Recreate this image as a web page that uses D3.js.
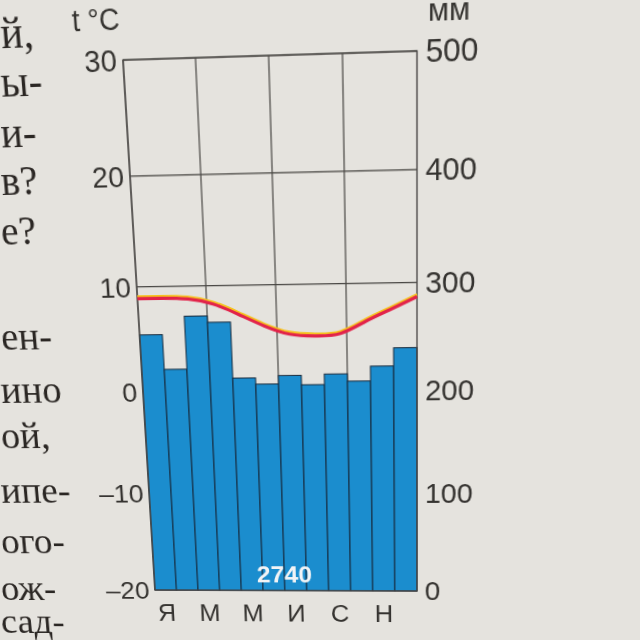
<!DOCTYPE html>
<html>
<head>
<meta charset="utf-8">
<script src="https://cdn.jsdelivr.net/npm/d3@7"></script>
<style>
  html, body { margin: 0; padding: 0; width: 640px; height: 640px; overflow: hidden; background: #e5e3de; }
  svg { position: absolute; left: 0; top: 0; transform-origin: 0 0; overflow: visible; }
</style>
</head>
<body>
<script>
// ---------- data ----------
const months = ["Я", "Ф", "М", "А", "М", "И", "И", "А", "С", "О", "Н", "Д"];
const monthLabels = ["Я", "", "М", "", "М", "", "И", "", "С", "", "Н", ""];
const precipitation = [255, 222, 272, 266, 213, 207, 215, 206, 216, 209, 223, 240]; // mm
const temperature = [8.9, 8.9, 8.8, 8.3, 7.3, 6.2, 5.4, 5.2, 5.4, 6.5, 7.6, 8.7];   // °C
const tempTicks = [-20, -10, 0, 10, 20, 30];
const precipTicks = [0, 100, 200, 300, 400, 500];
const annualTotal = "2740";
const tempTitle = "t °C";
const precipTitle = "мм";
const pageLines = ["й,", "ы-", "и-", "в?", "е?", "ен-", "ино", "ой,", "ипе-", "ого-", "ож-", "сад-"];

// ---------- layout (local drawing space) ----------
const X0 = 140, X1 = 416, Y0 = 56, Y1 = 590;
// where the plot corners appear in the photo (TL, TR, BR, BL)
const photoQuad = [[123, 60], [417, 51], [417, 591], [155, 590]];
// baselines of the page text lines, as seen in the photo
const pageLineBaselines = [48, 97, 147, 195, 245, 350, 403, 448, 503, 553, 600, 633];
const pageLineLeft = 2;

// ---------- perspective (square -> quad homography) ----------
function squareToQuad(q) {
  const [[x0, y0], [x1, y1], [x2, y2], [x3, y3]] = q;
  const dx1 = x1 - x2, dx2 = x3 - x2, sx = x0 - x1 + x2 - x3;
  const dy1 = y1 - y2, dy2 = y3 - y2, sy = y0 - y1 + y2 - y3;
  const det = dx1 * dy2 - dx2 * dy1;
  const g = (sx * dy2 - dx2 * sy) / det;
  const h = (dx1 * sy - sx * dy1) / det;
  return [[x1 - x0 + g * x1, x3 - x0 + h * x3, x0],
          [y1 - y0 + g * y1, y3 - y0 + h * y3, y0],
          [g, h, 1]];
}
function mul(A, B) {
  return A.map((r, i) => B[0].map((_, j) => r[0] * B[0][j] + r[1] * B[1][j] + r[2] * B[2][j]));
}
function inv(m) {
  const [[a, b, c], [d, e, f], [g, h, i]] = m;
  const A = e * i - f * h, B = -(d * i - f * g), C = d * h - e * g;
  const det = a * A + b * B + c * C;
  return [[A / det, -(b * i - c * h) / det, (b * f - c * e) / det],
          [B / det, (a * i - c * g) / det, -(a * f - c * d) / det],
          [C / det, -(a * h - b * g) / det, (a * e - b * d) / det]];
}
const W = X1 - X0, H = Y1 - Y0;
const S = [[1 / W, 0, -X0 / W], [0, 1 / H, -Y0 / H], [0, 0, 1]];
const M = mul(squareToQuad(photoQuad), S);
const Minv = inv(M);
function toLocal([x, y]) {
  const w = Minv[2][0] * x + Minv[2][1] * y + Minv[2][2];
  return [(Minv[0][0] * x + Minv[0][1] * y + Minv[0][2]) / w,
          (Minv[1][0] * x + Minv[1][1] * y + Minv[1][2]) / w];
}

const svg = d3.select("body").append("svg")
  .attr("width", 700).attr("height", 700)
  .style("transform", `matrix3d(${M[0][0]},${M[1][0]},0,${M[2][0]},${M[0][1]},${M[1][1]},0,${M[2][1]},0,0,1,0,${M[0][2]},${M[1][2]},0,${M[2][2]})`);

// ---------- scales ----------
const xBand = d3.scaleBand().domain(d3.range(12)).range([X0, X1]).padding(0);
const xPoint = d3.scalePoint().domain(d3.range(12)).range([X0, X1]);
const yT = d3.scaleLinear().domain([-20, 30]).range([Y1, Y0]);
const yP = d3.scaleLinear().domain([0, 500]).range([Y1, Y0]);

const ink = "#353330";
const gridColor = "#4a4845";
const sans = "'Liberation Sans', Arial, sans-serif";

// page text (neighbouring book text)
svg.append("g").selectAll("text").data(pageLines).join("text")
  .attr("x", (d, i) => toLocal([pageLineLeft, pageLineBaselines[i]])[0])
  .attr("y", (d, i) => toLocal([pageLineLeft, pageLineBaselines[i]])[1])
  .attr("text-anchor", "start")
  .attr("font-family", "'Liberation Serif', 'DejaVu Serif', serif")
  .attr("font-size", 40)
  .attr("fill", "#2b2724")
  .text(d => d);

// horizontal grid
svg.append("g").selectAll("line").data(tempTicks).join("line")
  .attr("x1", X0).attr("x2", X1)
  .attr("y1", d => yT(d)).attr("y2", d => yT(d))
  .attr("stroke", gridColor).attr("stroke-width", 1.2);

// vertical grid (every 3 months)
const vGrid = [0, 3, 6, 9];
svg.append("g").selectAll("line").data(vGrid).join("line")
  .attr("x1", d => xBand(d)).attr("x2", d => xBand(d))
  .attr("y1", Y0).attr("y2", Y1)
  .attr("stroke", gridColor).attr("stroke-width", 1.2);

// precipitation bars
svg.append("g").selectAll("rect").data(precipitation).join("rect")
  .attr("x", (d, i) => xBand(i))
  .attr("width", xBand.bandwidth())
  .attr("y", d => yP(d))
  .attr("height", d => yP(0) - yP(d))
  .attr("fill", "#1b8dce")
  .attr("stroke", "#17283a").attr("stroke-width", 1);

// plot frame
svg.append("rect").attr("x", X0).attr("y", Y0).attr("width", W).attr("height", H)
  .attr("fill", "none").attr("stroke", gridColor).attr("stroke-width", 1.3);

// temperature line
const line = d3.line().x((d, i) => xPoint(i)).y(d => yT(d)).curve(d3.curveNatural);
svg.append("path").datum(temperature).attr("d", line)
  .attr("transform", "translate(0,-2.2)")
  .attr("fill", "none").attr("stroke", "#f6c21c").attr("stroke-width", 2.4);
svg.append("path").datum(temperature).attr("d", line)
  .attr("fill", "none").attr("stroke", "#e2234a").attr("stroke-width", 3.2);

// annual total
svg.append("text").attr("x", (X0 + X1) / 2).attr("y", Y1 - 9)
  .attr("text-anchor", "middle")
  .attr("font-family", sans)
  .attr("font-weight", "bold").attr("font-size", 26)
  .attr("fill", "#f2f4f6")
  .text(annualTotal);

const fmt = d => d < 0 ? "\u2013" + Math.abs(d) : String(d);
// left axis labels
svg.append("g").selectAll("text").data(tempTicks).join("text")
  .attr("x", X0 - 6).attr("y", d => yT(d)).attr("dy", "0.36em")
  .attr("text-anchor", "end")
  .attr("font-family", sans)
  .attr("font-size", 28).attr("fill", ink)
  .text(fmt);
// right axis labels
svg.append("g").selectAll("text").data(precipTicks).join("text")
  .attr("x", X1 + 8).attr("y", d => yP(d)).attr("dy", "0.36em")
  .attr("text-anchor", "start")
  .attr("font-family", sans)
  .attr("font-size", 29).attr("fill", ink)
  .text(d => d);

// month labels
svg.append("g").selectAll("text").data(monthLabels).join("text")
  .attr("x", (d, i) => xBand(i) + xBand.bandwidth() / 2)
  .attr("y", Y1 + 35)
  .attr("text-anchor", "middle")
  .attr("font-family", sans)
  .attr("font-size", 27).attr("fill", ink)
  .text(d => d);

// axis titles
svg.append("text").attr("x", X0 - 1).attr("y", 29).attr("text-anchor", "end")
  .attr("font-family", sans)
  .attr("font-size", 27).attr("fill", ink).text(tempTitle);
svg.append("text").attr("x", X1 + 10).attr("y", 30).attr("text-anchor", "start")
  .attr("font-family", sans)
  .attr("font-size", 28).attr("fill", ink).text(precipTitle);
</script>
</body>
</html>
